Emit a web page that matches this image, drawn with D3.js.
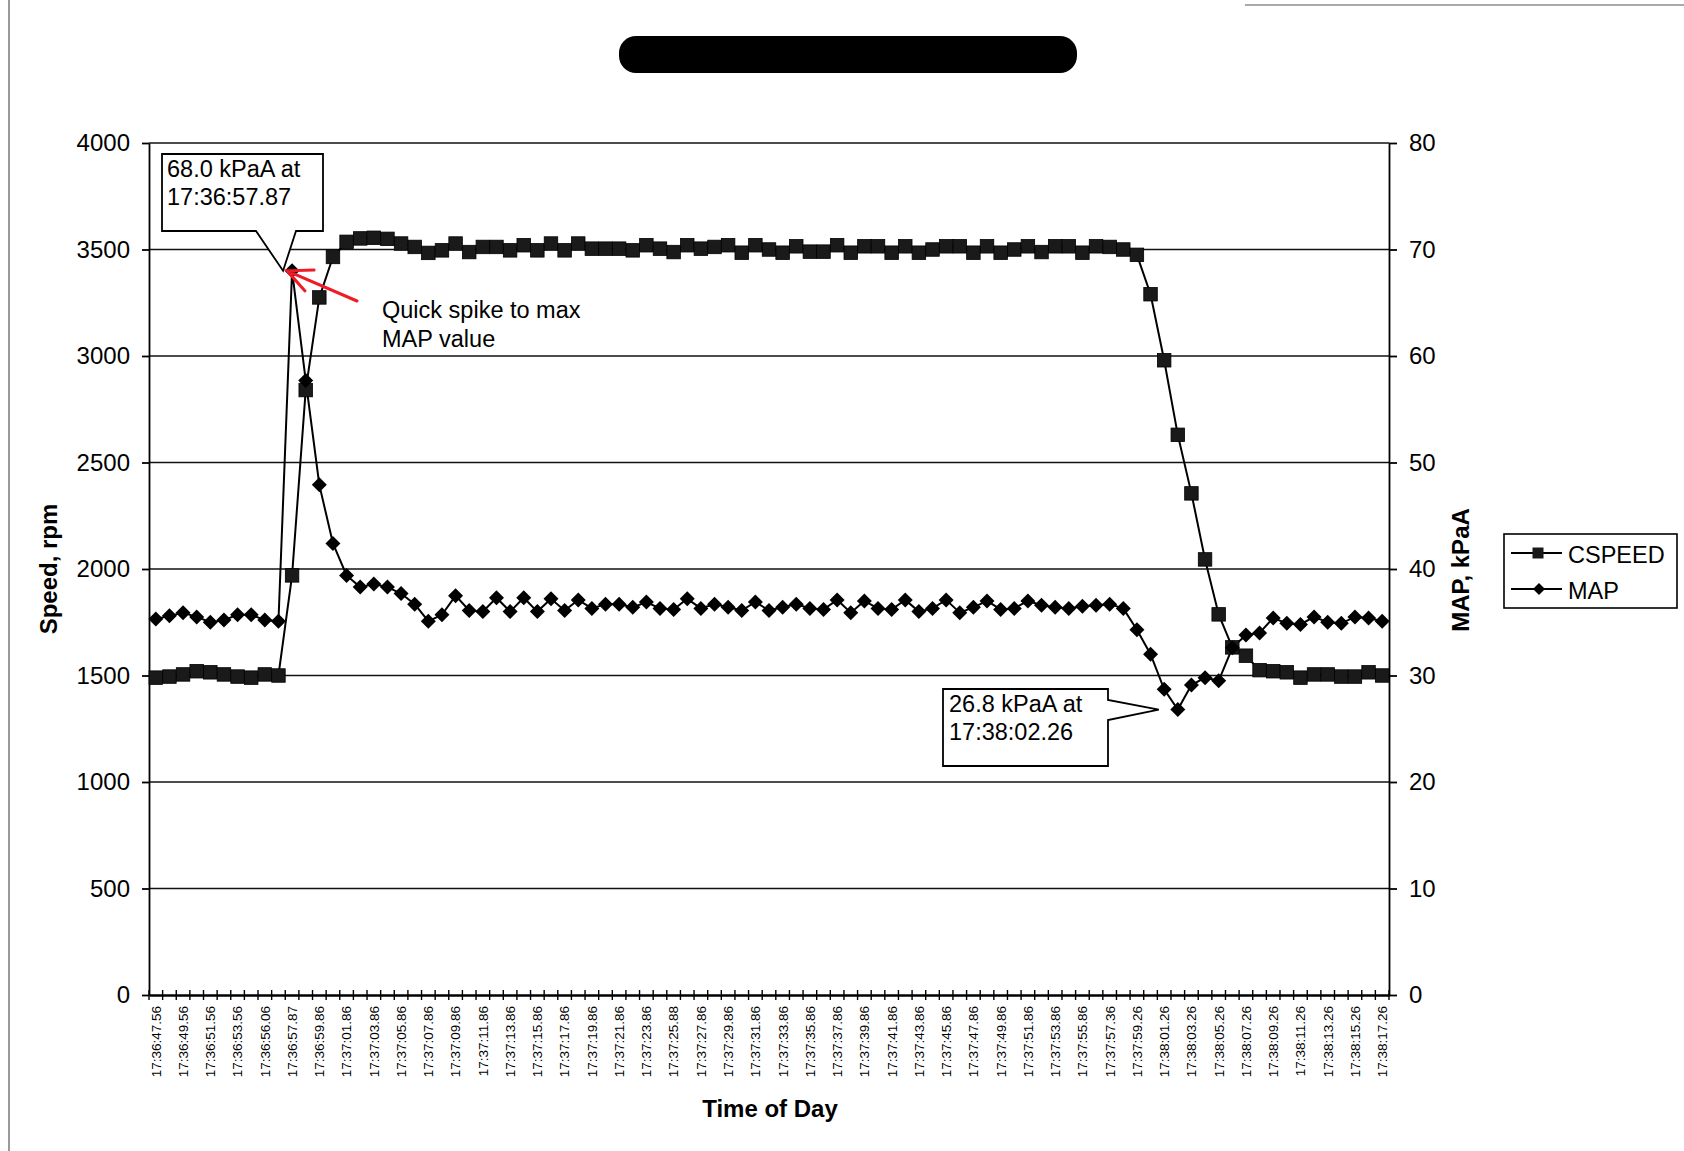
<!DOCTYPE html>
<html>
<head>
<meta charset="utf-8">
<script src="https://cdn.jsdelivr.net/npm/d3@7"></script>
<style>
  html, body { margin: 0; padding: 0; background: #fff; }
  svg { display: block; font-family: "Liberation Sans", Arial, sans-serif; }
</style>
</head>
<body>
<svg id="chart" width="1684" height="1151"></svg>
<script>
// Time-of-day labels shown under every second sample
const tickLabels = [
  "17:36:47.56", "17:36:49.56", "17:36:51.56", "17:36:53.56", "17:36:56.06",
  "17:36:57.87", "17:36:59.86", "17:37:01.86", "17:37:03.86", "17:37:05.86",
  "17:37:07.86", "17:37:09.86", "17:37:11.86", "17:37:13.86", "17:37:15.86",
  "17:37:17.86", "17:37:19.86", "17:37:21.86", "17:37:23.86", "17:37:25.88",
  "17:37:27.86", "17:37:29.86", "17:37:31.86", "17:37:33.86", "17:37:35.86",
  "17:37:37.86", "17:37:39.86", "17:37:41.86", "17:37:43.86", "17:37:45.86",
  "17:37:47.86", "17:37:49.86", "17:37:51.86", "17:37:53.86", "17:37:55.86",
  "17:37:57.36", "17:37:59.26", "17:38:01.26", "17:38:03.26", "17:38:05.26",
  "17:38:07.26", "17:38:09.26", "17:38:11.26", "17:38:13.26", "17:38:15.26",
  "17:38:17.26"
];

// Engine speed, rpm (one value per sample)
const cspeed = [
  1490, 1495, 1505, 1520, 1515, 1505, 1495, 1490, 1505, 1500,
  1970, 2840, 3275, 3465, 3536, 3552, 3555, 3550, 3528, 3512,
  3484, 3496, 3528, 3488, 3512, 3512, 3496, 3520, 3496, 3528,
  3496, 3528, 3504, 3504, 3504, 3496, 3520, 3504, 3488, 3520,
  3504, 3512, 3520, 3485, 3520, 3500, 3485, 3515, 3490, 3490,
  3520, 3485, 3515, 3515, 3485, 3515, 3485, 3500, 3515, 3515,
  3485, 3515, 3485, 3500, 3515, 3488, 3515, 3515, 3485, 3515,
  3512, 3500, 3475, 3290, 2980, 2630, 2355, 2045, 1787, 1632,
  1593, 1525, 1520, 1515, 1490, 1505, 1505, 1495, 1495, 1515,
  1500
];

// Manifold absolute pressure, kPaA
const mapKpa = [
  35.3, 35.6, 35.9, 35.5, 35.0, 35.2, 35.7, 35.7, 35.2, 35.1,
  68.0, 57.7, 47.9, 42.4, 39.4, 38.3, 38.6, 38.3, 37.7, 36.7,
  35.1, 35.7, 37.5, 36.1, 36.0, 37.3, 36.0, 37.3, 36.0, 37.2,
  36.1, 37.1, 36.3, 36.7, 36.7, 36.4, 36.9, 36.3, 36.2, 37.2,
  36.3, 36.7, 36.4, 36.1, 36.9, 36.1, 36.4, 36.7, 36.3, 36.2,
  37.1, 35.9, 37.0, 36.3, 36.2, 37.1, 36.0, 36.3, 37.1, 35.9,
  36.4, 37.0, 36.2, 36.3, 37.0, 36.6, 36.4, 36.3, 36.5, 36.6,
  36.7, 36.3, 34.3, 32.0, 28.7, 26.8, 29.1, 29.8, 29.5, 32.6,
  33.8, 34.0, 35.4, 34.9, 34.8, 35.5, 35.0, 34.9, 35.5, 35.4,
  35.1
];

// Callouts: sample index and the timestamp of that sample
const callouts = [
  { index: 10, time: "17:36:57.87" },
  { index: 75, time: "17:38:02.26" }
];

const speedTicks = d3.range(0, 4001, 500);
const mapTicks = d3.range(0, 81, 10);

const svg = d3.select("#chart");
const W = 1684, H = 1151;
const plot = { left: 149, right: 1389, top: 143, bottom: 995 };

svg.append("rect").attr("width", W).attr("height", H).attr("fill", "#fff");

// page edges of the printed sheet
svg.append("line").attr("x1", 9).attr("x2", 9).attr("y1", 0).attr("y2", H)
  .attr("stroke", "#555").attr("stroke-width", 1.2);
svg.append("line").attr("x1", 1245).attr("x2", W).attr("y1", 5).attr("y2", 5)
  .attr("stroke", "#555").attr("stroke-width", 1.2);

// redacted title
svg.append("rect")
  .attr("x", 619).attr("y", 36).attr("width", 458).attr("height", 37)
  .attr("rx", 17).attr("fill", "#000");

const n = cspeed.length;
const x = d3.scaleBand().domain(d3.range(n)).range([plot.left, plot.right]).padding(0);
const bw = x.bandwidth();
const cx = i => x(i) + bw / 2;
const yL = d3.scaleLinear().domain([0, 4000]).range([plot.bottom, plot.top]);
const yR = d3.scaleLinear().domain([0, 80]).range([plot.bottom, plot.top]);

// horizontal gridlines (including the top border at 4000)
svg.append("g").selectAll("line").data(speedTicks.filter(v => v > 0)).join("line")
  .attr("x1", plot.left).attr("x2", plot.right)
  .attr("y1", d => yL(d)).attr("y2", d => yL(d))
  .attr("stroke", "#111").attr("stroke-width", 1.6);

// left axis
const gL = svg.append("g").attr("transform", `translate(${plot.left},0)`)
  .call(d3.axisLeft(yL).tickValues(speedTicks).tickFormat(d3.format("d"))
    .tickSize(7).tickSizeOuter(0).tickPadding(12));
gL.selectAll("text").attr("font-size", 24).attr("fill", "#000")
  .attr("font-family", "'Liberation Sans', Arial, sans-serif");
gL.selectAll("line, path").attr("stroke", "#000").attr("stroke-width", 1.8);

// right axis
const gR = svg.append("g").attr("transform", `translate(${plot.right},0)`)
  .call(d3.axisRight(yR).tickValues(mapTicks).tickFormat(d3.format("d"))
    .tickSize(8).tickSizeOuter(0).tickPadding(12));
gR.selectAll("text").attr("font-size", 24).attr("fill", "#000")
  .attr("font-family", "'Liberation Sans', Arial, sans-serif");
gR.selectAll("line, path").attr("stroke", "#000").attr("stroke-width", 1.8);

// bottom axis: labels every second sample, cross ticks at every sample boundary
const gX = svg.append("g").attr("transform", `translate(0,${plot.bottom})`)
  .call(d3.axisBottom(x).tickValues(d3.range(0, n, 2))
    .tickFormat(i => tickLabels[i / 2]).tickSize(0).tickSizeOuter(0));
gX.select(".domain").attr("stroke", "#000").attr("stroke-width", 2.4);
gX.selectAll("text")
  .attr("transform", "rotate(-90)")
  .attr("text-anchor", "end")
  .attr("x", -11).attr("y", 0).attr("dy", "0.36em")
  .attr("font-size", 13.5).attr("fill", "#000")
  .attr("font-family", "'Liberation Sans', Arial, sans-serif");
gX.append("g").selectAll("line").data(d3.range(n + 1)).join("line")
  .attr("x1", k => k < n ? x(k) : plot.right)
  .attr("x2", k => k < n ? x(k) : plot.right)
  .attr("y1", -5).attr("y2", 5)
  .attr("stroke", "#000").attr("stroke-width", 1.4);

// series lines
const lineSpeed = d3.line().x((d, i) => cx(i)).y(d => yL(d));
const lineMap = d3.line().x((d, i) => cx(i)).y(d => yR(d));

svg.append("path").datum(cspeed).attr("d", lineSpeed)
  .attr("fill", "none").attr("stroke", "#000").attr("stroke-width", 2);
svg.append("path").datum(mapKpa).attr("d", lineMap)
  .attr("fill", "none").attr("stroke", "#000").attr("stroke-width", 2);

// markers
const sq = 13.5, dm = 7.5;
svg.append("g").selectAll("rect").data(cspeed).join("rect")
  .attr("x", (d, i) => cx(i) - sq / 2).attr("y", d => yL(d) - sq / 2)
  .attr("width", sq).attr("height", sq)
  .attr("fill", "#1a1a1a").attr("stroke", "#000").attr("stroke-width", 0.8);
const diamond = (px, py, r) => `M${px},${py - r}L${px + r},${py}L${px},${py + r}L${px - r},${py}Z`;
svg.append("g").selectAll("path").data(mapKpa).join("path")
  .attr("d", (d, i) => diamond(cx(i), yR(d), dm))
  .attr("fill", "#000");

// callout boxes
const txt = (sel) => sel.attr("font-size", 23.5).attr("fill", "#000")
  .attr("font-family", "'Liberation Sans', Arial, sans-serif");

{
  const c = callouts[0];
  const tx = cx(c.index) - 9, ty = yR(mapKpa[c.index]);
  const b = { l: 162, r: 323, t: 154, btm: 231 };
  const pts = [[b.l, b.t], [b.r, b.t], [b.r, b.btm], [296, b.btm], [tx, ty], [256, b.btm], [b.l, b.btm]];
  svg.append("path").attr("d", "M" + pts.map(p => p.join(",")).join("L") + "Z")
    .attr("fill", "#fff").attr("stroke", "#000").attr("stroke-width", 1.8);
  svg.append("text").attr("x", 167).attr("y", 177).text(`${mapKpa[c.index].toFixed(1)} kPaA at`).call(txt);
  svg.append("text").attr("x", 167).attr("y", 205).text(c.time).call(txt);
}
{
  const c = callouts[1];
  const tx = cx(c.index) - 19, ty = yR(mapKpa[c.index]);
  const b = { l: 943, r: 1108, t: 689, btm: 766 };
  const pts = [[b.l, b.t], [b.r, b.t], [b.r, 700], [tx, ty], [b.r, 720], [b.r, b.btm], [b.l, b.btm]];
  svg.append("path").attr("d", "M" + pts.map(p => p.join(",")).join("L") + "Z")
    .attr("fill", "#fff").attr("stroke", "#000").attr("stroke-width", 1.8);
  svg.append("text").attr("x", 949).attr("y", 712).text(`${mapKpa[c.index].toFixed(1)} kPaA at`).call(txt);
  svg.append("text").attr("x", 949).attr("y", 740).text(c.time).call(txt);
}

// red arrow to the pressure spike
{
  const tip = [cx(10) - 5, yR(mapKpa[10])];
  const tail = [357, 301];
  const ang = Math.atan2(tail[1] - tip[1], tail[0] - tip[0]);
  const L = 27, a = 25 * Math.PI / 180;
  const h1 = [tip[0] + L * Math.cos(ang + a), tip[1] + L * Math.sin(ang + a)];
  const h2 = [tip[0] + L * Math.cos(ang - a), tip[1] + L * Math.sin(ang - a)];
  svg.append("path")
    .attr("d", `M${tail}L${tip}M${h1}L${tip}L${h2}`)
    .attr("fill", "none").attr("stroke", "#ee1c25").attr("stroke-width", 3)
    .attr("stroke-linecap", "round");
}
svg.append("text").attr("x", 382).attr("y", 318).text("Quick spike to max").call(txt);
svg.append("text").attr("x", 382).attr("y", 347).text("MAP value").call(txt);

// axis titles
const title = (sel) => sel.attr("font-size", 24).attr("font-weight", "bold").attr("fill", "#000")
  .attr("font-family", "'Liberation Sans', Arial, sans-serif").attr("text-anchor", "middle");
svg.append("text").attr("transform", "translate(57,569) rotate(-90)").text("Speed, rpm").call(title);
svg.append("text").attr("transform", "translate(1469,570) rotate(-90)").text("MAP, kPaA").call(title);
svg.append("text").attr("x", 770).attr("y", 1117).text("Time of Day").call(title);

// legend
{
  const g = svg.append("g");
  g.append("rect").attr("x", 1504).attr("y", 534).attr("width", 173).attr("height", 74)
    .attr("fill", "#fff").attr("stroke", "#000").attr("stroke-width", 1.6);
  const rows = [{ name: "CSPEED", y: 553, kind: "square" }, { name: "MAP", y: 589, kind: "diamond" }];
  rows.forEach(r => {
    g.append("line").attr("x1", 1511).attr("x2", 1562).attr("y1", r.y).attr("y2", r.y)
      .attr("stroke", "#000").attr("stroke-width", 2);
    if (r.kind === "square") {
      g.append("rect").attr("x", 1538 - 5.5).attr("y", r.y - 5.5).attr("width", 11).attr("height", 11)
        .attr("fill", "#1a1a1a");
    } else {
      g.append("path").attr("d", diamond(1539, r.y, 6)).attr("fill", "#000");
    }
    g.append("text").attr("x", 1568).attr("y", r.y + 10).text(r.name).call(txt);
  });
}
</script>
</body>
</html>
